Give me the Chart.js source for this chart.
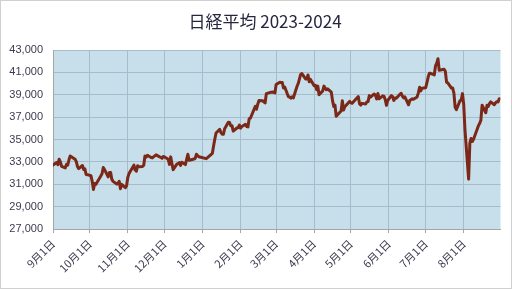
<!DOCTYPE html>
<html><head><meta charset="utf-8">
<script src="https://cdn.jsdelivr.net/npm/chart.js@4/dist/chart.umd.min.js"></script>
<style>html,body{margin:0;padding:0;background:#fff}#wrap{width:512px;height:289px;position:relative}</style>
</head><body><div id="wrap"><canvas id="c" width="512" height="289"></canvas></div>
<script>
const chartTitle = '日経平均 2023-2024';

const dates = [
"2023-09-01","2023-09-04","2023-09-05","2023-09-06","2023-09-07","2023-09-08","2023-09-11","2023-09-12","2023-09-13","2023-09-14","2023-09-15","2023-09-19","2023-09-20","2023-09-21","2023-09-22","2023-09-25","2023-09-26","2023-09-27","2023-09-28","2023-09-29",
"2023-10-02","2023-10-03","2023-10-04","2023-10-05","2023-10-06","2023-10-10","2023-10-11","2023-10-12","2023-10-13","2023-10-16","2023-10-17","2023-10-18","2023-10-19","2023-10-20","2023-10-23","2023-10-24","2023-10-25","2023-10-26","2023-10-27","2023-10-30","2023-10-31",
"2023-11-01","2023-11-02","2023-11-06","2023-11-07","2023-11-08","2023-11-09","2023-11-10","2023-11-13","2023-11-14","2023-11-15","2023-11-16","2023-11-17","2023-11-20","2023-11-21","2023-11-22","2023-11-24","2023-11-27","2023-11-28","2023-11-29","2023-11-30",
"2023-12-01","2023-12-04","2023-12-05","2023-12-06","2023-12-07","2023-12-08","2023-12-11","2023-12-12","2023-12-13","2023-12-14","2023-12-15","2023-12-18","2023-12-19","2023-12-20","2023-12-21","2023-12-22","2023-12-25","2023-12-26","2023-12-27","2023-12-28","2023-12-29",
"2024-01-04","2024-01-05","2024-01-09","2024-01-10","2024-01-11","2024-01-12","2024-01-15","2024-01-16","2024-01-17","2024-01-18","2024-01-19","2024-01-22","2024-01-23","2024-01-24","2024-01-25","2024-01-26","2024-01-29","2024-01-30","2024-01-31",
"2024-02-01","2024-02-02","2024-02-05","2024-02-06","2024-02-07","2024-02-08","2024-02-09","2024-02-13","2024-02-14","2024-02-15","2024-02-16","2024-02-19","2024-02-20","2024-02-21","2024-02-22","2024-02-26","2024-02-27","2024-02-28","2024-02-29",
"2024-03-01","2024-03-04","2024-03-05","2024-03-06","2024-03-07","2024-03-08","2024-03-11","2024-03-12","2024-03-13","2024-03-14","2024-03-15","2024-03-18","2024-03-19","2024-03-21","2024-03-22","2024-03-25","2024-03-26","2024-03-27","2024-03-28","2024-03-29",
"2024-04-01","2024-04-02","2024-04-03","2024-04-04","2024-04-05","2024-04-08","2024-04-09","2024-04-10","2024-04-11","2024-04-12","2024-04-15","2024-04-16","2024-04-17","2024-04-18","2024-04-19","2024-04-22","2024-04-23","2024-04-24","2024-04-25","2024-04-26","2024-04-30",
"2024-05-01","2024-05-02","2024-05-07","2024-05-08","2024-05-09","2024-05-10","2024-05-13","2024-05-14","2024-05-15","2024-05-16","2024-05-17","2024-05-20","2024-05-21","2024-05-22","2024-05-23","2024-05-24","2024-05-27","2024-05-28","2024-05-29","2024-05-30","2024-05-31",
"2024-06-03","2024-06-04","2024-06-05","2024-06-06","2024-06-07","2024-06-10","2024-06-11","2024-06-12","2024-06-13","2024-06-14","2024-06-17","2024-06-18","2024-06-19","2024-06-20","2024-06-21","2024-06-24","2024-06-25","2024-06-26","2024-06-27","2024-06-28",
"2024-07-01","2024-07-02","2024-07-03","2024-07-04","2024-07-05","2024-07-08","2024-07-09","2024-07-10","2024-07-11","2024-07-12","2024-07-16","2024-07-17","2024-07-18","2024-07-19","2024-07-22","2024-07-23","2024-07-24","2024-07-25","2024-07-26","2024-07-29","2024-07-30","2024-07-31",
"2024-08-01","2024-08-02","2024-08-05","2024-08-06","2024-08-07","2024-08-08","2024-08-09","2024-08-13","2024-08-14","2024-08-15","2024-08-16","2024-08-19","2024-08-20","2024-08-21","2024-08-22","2024-08-23","2024-08-26","2024-08-27","2024-08-28","2024-08-29","2024-08-30"
];

const closes = [
32710,32939,32745,33241,32991,32606,32467,32776,32706,33168,33533,33242,33023,32571,32402,32678,32315,32371,31872,31857,
31759,31237,30526,31075,30994,31746,31936,32494,32315,31659,32040,32042,31431,31259,31019,31062,31269,30601,30991,30696,30858,
31601,31950,32708,32272,32166,32646,32568,32585,32695,33519,33424,33585,33388,33354,33452,33625,33447,33409,33321,33487,
33432,33231,32775,33446,32858,32307,32792,32843,32926,32686,32970,32759,33220,33676,33141,33170,33255,33306,33682,33540,33464,
33288,33377,33763,34441,35050,35577,35901,35620,35478,35466,35963,36547,36518,36227,36237,35751,36027,36066,36287,
36012,36158,36355,36161,36120,36863,36898,37964,37704,38158,38488,38470,38364,38263,39099,39234,39240,39209,39166,
39911,40110,40098,40091,39599,39689,38821,38797,38696,38808,38708,39740,40004,40816,40889,40415,40399,40763,40168,40370,
39804,39839,39452,39774,38993,39348,39773,39582,39443,39524,39233,38472,37962,38080,37069,37439,37553,38461,37629,37935,38406,
38274,38237,38836,38203,38074,38229,38179,38357,38386,38921,38787,39070,38947,38617,39104,38647,38901,38856,38557,38055,38488,
38924,38838,38491,38704,38684,39039,39135,38877,38721,38815,38103,38483,38571,38634,38597,38805,39174,39668,39342,39583,
39632,40075,40581,40914,40913,40781,41581,41832,42224,41191,41276,41098,40127,40064,39599,39594,39155,37870,37668,38469,38526,39102,
38126,35910,31458,34676,35090,34831,35025,36233,36443,36727,38063,37389,38063,37952,38212,38365,38111,38289,38372,38363,38648
];

const monthStarts = ["2023-09-01","2023-10-01","2023-11-01","2023-12-01","2024-01-01","2024-02-01","2024-03-01","2024-04-01","2024-05-01","2024-06-01","2024-07-01","2024-08-01"];
const monthLabels = ["9月1日","10月1日","11月1日","12月1日","1月1日","2月1日","3月1日","4月1日","5月1日","6月1日","7月1日","8月1日"];
const yMin = 27000, yMax = 43000, yStep = 2000;

const DAY = 86400000;
const t0 = Date.parse(monthStarts[0] + 'T00:00:00Z');
const dayIndex = s => Math.round((Date.parse(s + 'T00:00:00Z') - t0) / DAY);
const points = dates.map((d, i) => ({ x: dayIndex(d), y: closes[i] }));
const tickPos = monthStarts.map(dayIndex);

const TXT = '#3b3b4f';
const GRID = '#a7bccb';

const bgPlugin = {
  id: 'bg',
  beforeDraw(chart) {
    const { ctx, chartArea: a } = chart;
    ctx.save();
    ctx.fillStyle = '#ffffff';
    ctx.fillRect(0, 0, chart.width, chart.height);
    ctx.strokeStyle = '#d0d0d0';
    ctx.lineWidth = 1;
    ctx.strokeRect(0.5, 0.5, chart.width - 1, chart.height - 1);
    ctx.fillStyle = '#c6dfea';
    ctx.fillRect(a.left, a.top, a.right - a.left, a.bottom - a.top);
    ctx.restore();
  },
  afterDraw(chart) {
    const ctx = chart.ctx;
    ctx.save();
    ctx.fillStyle = '#262640';
    ctx.font = "17px 'Noto Sans CJK JP', 'Noto Sans', sans-serif";
    ctx.textAlign = 'center';
    ctx.textBaseline = 'middle';
    ctx.fillText(chartTitle, 265, 22);
    ctx.restore();
  }
};

new Chart(document.getElementById('c'), {
  type: 'line',
  data: {
    datasets: [{
      label: '日経平均',
      data: points,
      borderColor: '#7c2818',
      borderWidth: 3,
      pointRadius: 0,
      tension: 0,
      borderJoinStyle: 'round',
      borderCapStyle: 'round'
    }]
  },
  options: {
    responsive: false,
    animation: false,
    devicePixelRatio: 1,
    layout: { padding: { left: 0, right: 11.5, top: 50, bottom: 0 } },
    plugins: {
      legend: { display: false },
      tooltip: { enabled: false },
      title: { display: false }
    },
    scales: {
      x: {
        type: 'linear',
        min: 0,
        max: 365,
        afterBuildTicks: s => { s.ticks = tickPos.map(v => ({ value: v })); },
        afterFit: s => { s.height = 60; },
        ticks: {
          autoSkip: false,
          maxRotation: 45,
          minRotation: 45,
          padding: 4,
          color: TXT,
          font: { family: "'Noto Sans CJK JP', sans-serif", size: 11 },
          callback: v => monthLabels[tickPos.indexOf(v)]
        },
        grid: { color: GRID, lineWidth: 1, tickLength: 4, tickColor: '#a6a6a6' },
        border: { color: '#a6a6a6' }
      },
      y: {
        min: yMin,
        max: yMax,
        afterFit: s => { s.width = 53; },
        ticks: {
          stepSize: yStep,
          padding: 10,
          color: TXT,
          font: { family: "'Liberation Sans', Arial, sans-serif", size: 11 },
          callback: v => v.toLocaleString('en-US')
        },
        grid: { color: GRID, lineWidth: 1, drawTicks: false },
        border: { color: '#a6a6a6' }
      }
    }
  },
  plugins: [bgPlugin]
});
</script>
</body></html>
